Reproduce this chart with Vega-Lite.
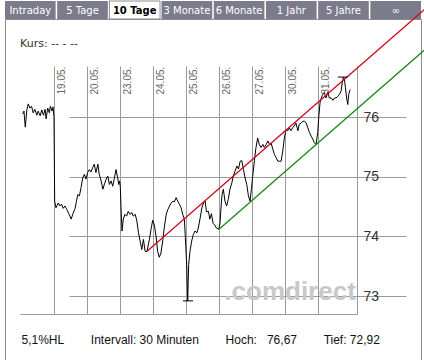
{
  "$schema": "https://vega.github.io/schema/vega-lite/v6.json",
  "padding": {"left": 4, "top": 0, "right": 0, "bottom": 0},
  "spacing": 0,
  "bounds": "flush",
  "background": "white",
  "config": {"view": {"stroke": null}, "font": "Liberation Sans"},
  "datasets": {
    "tabs": [
      {"tab": "Intraday", "active": false},
      {"tab": "5 Tage", "active": false},
      {"tab": "10 Tage", "active": true},
      {"tab": "3 Monate", "active": false},
      {"tab": "6 Monate", "active": false},
      {"tab": "1 Jahr", "active": false},
      {"tab": "5 Jahre", "active": false},
      {"tab": "∞", "active": false}
    ],
    "price": [
      {"t": -0.96, "p": 76.05}, {"t": -0.92, "p": 76.10}, {"t": -0.88, "p": 75.83}, {"t": -0.83, "p": 76.13},
      {"t": -0.79, "p": 76.22}, {"t": -0.74, "p": 76.15}, {"t": -0.69, "p": 76.18}, {"t": -0.64, "p": 76.07},
      {"t": -0.59, "p": 76.13}, {"t": -0.53, "p": 76.03}, {"t": -0.49, "p": 76.10}, {"t": -0.43, "p": 76.02},
      {"t": -0.38, "p": 76.12}, {"t": -0.33, "p": 76.03}, {"t": -0.28, "p": 76.13}, {"t": -0.25, "p": 75.97},
      {"t": -0.20, "p": 76.15}, {"t": -0.15, "p": 76.07}, {"t": -0.12, "p": 76.18}, {"t": -0.07, "p": 76.10},
      {"t": -0.04, "p": 76.17}, {"t": -0.01, "p": 76.00},
      {"t": 0.01, "p": 74.59}, {"t": 0.05, "p": 74.48}, {"t": 0.12, "p": 74.56}, {"t": 0.17, "p": 74.51},
      {"t": 0.22, "p": 74.54}, {"t": 0.27, "p": 74.47}, {"t": 0.32, "p": 74.51}, {"t": 0.38, "p": 74.45},
      {"t": 0.43, "p": 74.39}, {"t": 0.51, "p": 74.29}, {"t": 0.57, "p": 74.39}, {"t": 0.63, "p": 74.47},
      {"t": 0.67, "p": 74.59}, {"t": 0.71, "p": 74.70}, {"t": 0.76, "p": 74.68}, {"t": 0.81, "p": 74.82},
      {"t": 0.86, "p": 74.98}, {"t": 0.91, "p": 75.04}, {"t": 0.96, "p": 74.96}, {"t": 1.01, "p": 75.07},
      {"t": 1.06, "p": 75.12}, {"t": 1.11, "p": 75.08}, {"t": 1.16, "p": 75.15}, {"t": 1.21, "p": 75.21},
      {"t": 1.26, "p": 75.07}, {"t": 1.32, "p": 75.21}, {"t": 1.36, "p": 75.04}, {"t": 1.42, "p": 74.93},
      {"t": 1.47, "p": 74.79}, {"t": 1.52, "p": 74.88}, {"t": 1.57, "p": 74.96}, {"t": 1.62, "p": 75.01},
      {"t": 1.67, "p": 74.87}, {"t": 1.72, "p": 74.93}, {"t": 1.77, "p": 74.84}, {"t": 1.82, "p": 74.98},
      {"t": 1.87, "p": 75.12}, {"t": 1.92, "p": 74.98}, {"t": 1.95, "p": 74.87}, {"t": 1.98, "p": 74.93},
      {"t": 2.00, "p": 74.82},
      {"t": 2.02, "p": 74.48}, {"t": 2.05, "p": 74.09}, {"t": 2.09, "p": 74.29}, {"t": 2.14, "p": 74.37},
      {"t": 2.19, "p": 74.34}, {"t": 2.24, "p": 74.42}, {"t": 2.29, "p": 74.37}, {"t": 2.35, "p": 74.40},
      {"t": 2.39, "p": 74.34}, {"t": 2.45, "p": 74.37}, {"t": 2.50, "p": 74.26}, {"t": 2.55, "p": 74.06},
      {"t": 2.60, "p": 73.92}, {"t": 2.65, "p": 73.78}, {"t": 2.70, "p": 73.95}, {"t": 2.75, "p": 73.75},
      {"t": 2.81, "p": 73.75}, {"t": 2.88, "p": 73.95}, {"t": 2.93, "p": 74.12}, {"t": 2.98, "p": 74.27},
      {"t": 3.03, "p": 74.19}, {"t": 3.08, "p": 74.01}, {"t": 3.13, "p": 73.75}, {"t": 3.18, "p": 73.65},
      {"t": 3.23, "p": 73.72}, {"t": 3.29, "p": 73.95}, {"t": 3.33, "p": 74.14}, {"t": 3.39, "p": 74.37},
      {"t": 3.44, "p": 74.45}, {"t": 3.49, "p": 74.51}, {"t": 3.54, "p": 74.56}, {"t": 3.59, "p": 74.59},
      {"t": 3.64, "p": 74.58}, {"t": 3.69, "p": 74.65}, {"t": 3.74, "p": 74.59}, {"t": 3.79, "p": 74.54},
      {"t": 3.84, "p": 74.48}, {"t": 3.89, "p": 74.37}, {"t": 3.94, "p": 74.29}, {"t": 3.97, "p": 73.98},
      {"t": 4.01, "p": 73.53}, {"t": 4.04, "p": 72.92},
      {"t": 4.07, "p": 73.53}, {"t": 4.11, "p": 73.75}, {"t": 4.16, "p": 73.92}, {"t": 4.21, "p": 74.03},
      {"t": 4.26, "p": 74.09}, {"t": 4.32, "p": 74.06}, {"t": 4.36, "p": 74.14}, {"t": 4.42, "p": 74.31},
      {"t": 4.47, "p": 74.48}, {"t": 4.52, "p": 74.56}, {"t": 4.57, "p": 74.59}, {"t": 4.61, "p": 74.41},
      {"t": 4.67, "p": 74.42}, {"t": 4.71, "p": 74.29}, {"t": 4.76, "p": 74.38}, {"t": 4.81, "p": 74.22},
      {"t": 4.86, "p": 74.19}, {"t": 4.91, "p": 74.14}, {"t": 4.98, "p": 74.12},
      {"t": 5.02, "p": 74.22}, {"t": 5.05, "p": 74.48}, {"t": 5.08, "p": 74.70}, {"t": 5.12, "p": 74.79},
      {"t": 5.17, "p": 74.59}, {"t": 5.22, "p": 74.51}, {"t": 5.27, "p": 74.62}, {"t": 5.32, "p": 74.79},
      {"t": 5.38, "p": 74.90}, {"t": 5.42, "p": 75.01}, {"t": 5.48, "p": 75.10}, {"t": 5.53, "p": 75.18},
      {"t": 5.58, "p": 75.13}, {"t": 5.63, "p": 75.26}, {"t": 5.68, "p": 75.27}, {"t": 5.73, "p": 75.12},
      {"t": 5.78, "p": 74.98}, {"t": 5.83, "p": 74.87}, {"t": 5.88, "p": 74.68}, {"t": 5.93, "p": 74.59},
      {"t": 5.97, "p": 74.79},
      {"t": 6.01, "p": 75.01}, {"t": 6.06, "p": 75.26}, {"t": 6.11, "p": 75.49}, {"t": 6.16, "p": 75.65},
      {"t": 6.21, "p": 75.54}, {"t": 6.26, "p": 75.49}, {"t": 6.32, "p": 75.54}, {"t": 6.36, "p": 75.49},
      {"t": 6.42, "p": 75.54}, {"t": 6.47, "p": 75.60}, {"t": 6.52, "p": 75.54}, {"t": 6.57, "p": 75.56},
      {"t": 6.62, "p": 75.46}, {"t": 6.67, "p": 75.37}, {"t": 6.72, "p": 75.32}, {"t": 6.77, "p": 75.26},
      {"t": 6.82, "p": 75.26}, {"t": 6.87, "p": 75.26}, {"t": 6.92, "p": 75.43}, {"t": 6.97, "p": 75.65},
      {"t": 7.02, "p": 75.79}, {"t": 7.07, "p": 75.77}, {"t": 7.12, "p": 75.82}, {"t": 7.17, "p": 75.77},
      {"t": 7.22, "p": 75.82}, {"t": 7.27, "p": 75.85}, {"t": 7.32, "p": 75.90}, {"t": 7.38, "p": 75.77},
      {"t": 7.42, "p": 75.88}, {"t": 7.48, "p": 75.90}, {"t": 7.53, "p": 75.93}, {"t": 7.58, "p": 75.93},
      {"t": 7.63, "p": 75.90}, {"t": 7.68, "p": 75.82}, {"t": 7.73, "p": 75.74}, {"t": 7.78, "p": 75.68},
      {"t": 7.83, "p": 75.63}, {"t": 7.88, "p": 75.57}, {"t": 7.93, "p": 75.54}, {"t": 7.98, "p": 75.74},
      {"t": 8.01, "p": 75.99}, {"t": 8.05, "p": 76.24}, {"t": 8.09, "p": 76.32}, {"t": 8.13, "p": 76.38},
      {"t": 8.18, "p": 76.41}, {"t": 8.23, "p": 76.32}, {"t": 8.29, "p": 76.42}, {"t": 8.33, "p": 76.32},
      {"t": 8.39, "p": 76.32}, {"t": 8.44, "p": 76.28}, {"t": 8.49, "p": 76.32}, {"t": 8.54, "p": 76.32},
      {"t": 8.59, "p": 76.35}, {"t": 8.64, "p": 76.38}, {"t": 8.69, "p": 76.44}, {"t": 8.72, "p": 76.57},
      {"t": 8.76, "p": 76.67}, {"t": 8.79, "p": 76.63}, {"t": 8.82, "p": 76.49}, {"t": 8.86, "p": 76.30},
      {"t": 8.89, "p": 76.21}, {"t": 8.92, "p": 76.38}, {"t": 8.95, "p": 76.44}, {"t": 8.97, "p": 76.46}
    ],
    "trend": [
      {"name": "Widerstand", "t": 2.81, "p": 73.75},
      {"name": "Widerstand", "t": 11.23, "p": 77.81},
      {"name": "Unterstützung", "t": 4.99, "p": 74.12},
      {"name": "Unterstützung", "t": 11.23, "p": 77.13}
    ],
    "extremes": [
      {"label": "Tief", "t": 4.05, "p": 72.92},
      {"label": "Hoch", "t": 8.74, "p": 76.67}
    ],
    "brand": [
      {"text": ".comdirect"}
    ]
  },
  "vconcat": [
    {
      "width": 416,
      "height": 18,
      "view": {"stroke": null},
      "data": {"name": "tabs"},
      "encoding": {
        "x": {"field": "tab", "type": "nominal", "sort": null, "scale": {"paddingInner": 0.03, "paddingOuter": 0}, "axis": null}
      },
      "layer": [
        {"mark": {"type": "bar", "fill": "#7b7b8b"}},
        {"transform": [{"filter": "datum.active"}], "mark": {"type": "bar", "fill": "white", "stroke": "#8c8c8c", "strokeWidth": 1}},
        {"transform": [{"filter": "!datum.active"}], "mark": {"type": "text", "color": "white", "font": "DejaVu Sans", "fontSize": 10, "dy": 1}, "encoding": {"text": {"field": "tab"}}},
        {"transform": [{"filter": "datum.active"}], "mark": {"type": "text", "color": "black", "font": "DejaVu Sans", "fontSize": 10, "fontWeight": "bold", "dy": 1}, "encoding": {"text": {"field": "tab"}}}
      ]
    },
    {
      "width": 416,
      "height": 342,
      "view": {"stroke": "#8c8c8c", "fill": "white"},
      "title": {"text": "Kurs: -- - --", "anchor": "start", "frame": "group", "orient": "top", "offset": -43, "dx": 15, "font": "DejaVu Sans", "fontSize": 11, "fontWeight": "normal", "color": "#333333"},
      "resolve": {"axis": {"x": "independent"}},
      "layer": [
        {
          "data": {"name": "price"},
          "mark": {"type": "line", "color": "black", "strokeWidth": 1},
          "encoding": {
            "x": {
              "field": "t", "type": "quantitative",
              "scale": {"domain": [-1.04, 9.17], "range": [15, 352], "nice": false, "zero": false},
              "axis": {"orient": "top", "offset": -75, "values": [0, 1, 2, 3, 4, 5, 6, 7, 8],
                "labelExpr": "['19.05.','20.05.','23.05.','24.05.','25.05.','26.05.','27.05.','30.05.','31.05.'][datum.value]",
                "labelAngle": 270, "labelAlign": "left", "labelBaseline": "top", "labelOffset": 2, "labelPadding": 0,
                "ticks": false, "tickSize": 0, "domain": false, "grid": true, "gridColor": "#9a9a9a", "gridOpacity": 1, "gridWidth": 1,
                "labelFont": "Liberation Sans", "labelFontSize": 10, "labelColor": "#666666", "title": null,
                "labelFlush": false, "labelOverlap": false, "labelBound": false}
            },
            "y": {
              "field": "p", "type": "quantitative",
              "scale": {"domain": [72.7, 76.855], "range": [295, 47], "nice": false, "zero": false},
              "axis": {"orient": "right", "offset": -64, "values": [73, 74, 75, 76], "format": "d",
                "grid": true, "gridColor": "#9a9a9a", "gridOpacity": 1, "gridWidth": 1,
                "domain": true, "domainColor": "#9a9a9a", "domainWidth": 1, "ticks": false, "labelPadding": 6,
                "labelFont": "Liberation Sans", "labelFontSize": 14, "labelColor": "#333333", "title": null, "labelFlush": false}
            }
          }
        },
        {
          "data": {"name": "brand"},
          "mark": {"type": "text", "font": "Liberation Sans", "fontSize": 26, "fontWeight": "bold", "color": "#c8c8c8", "align": "left", "baseline": "alphabetic"},
          "encoding": {
            "x": {"datum": 5.15, "type": "quantitative", "axis": null},
            "y": {"datum": 72.94, "type": "quantitative"},
            "text": {"field": "text"}
          }
        },
        {
          "data": {"name": "trend"},
          "mark": {"type": "line", "strokeWidth": 1.3},
          "encoding": {
            "x": {"field": "t", "type": "quantitative",
              "axis": {"orient": "bottom", "offset": -47, "labels": false, "ticks": false, "grid": false,
                "domain": true, "domainColor": "#9a9a9a", "domainWidth": 1,
                "title": "5,1%HL\u00a0\u00a0\u00a0\u00a0\u00a0\u00a0\u00a0\u00a0Intervall: 30 Minuten\u00a0\u00a0\u00a0\u00a0\u00a0\u00a0\u00a0\u00a0Hoch:\u00a0\u00a0\u00a076,67\u00a0\u00a0\u00a0\u00a0\u00a0\u00a0\u00a0\u00a0Tief:\u00a072,92",
                "titleFont": "Liberation Sans", "titleFontSize": 12, "titleFontWeight": "normal", "titleColor": "#111111",
                "titleX": 16, "titleY": 29, "titleAlign": "left", "titleAnchor": "start", "titleBaseline": "alphabetic"}},
            "y": {"field": "p", "type": "quantitative"},
            "color": {"field": "name", "type": "nominal", "scale": {"domain": ["Widerstand", "Unterstützung"], "range": ["#cc0a1e", "#138a13"]}, "legend": null}
          }
        },
        {
          "data": {"name": "extremes"},
          "mark": {"type": "tick", "orient": "horizontal", "size": 10, "thickness": 1, "color": "black", "opacity": 1},
          "encoding": {
            "x": {"field": "t", "type": "quantitative", "axis": null},
            "y": {"field": "p", "type": "quantitative"}
          }
        }
      ]
    }
  ]
}
